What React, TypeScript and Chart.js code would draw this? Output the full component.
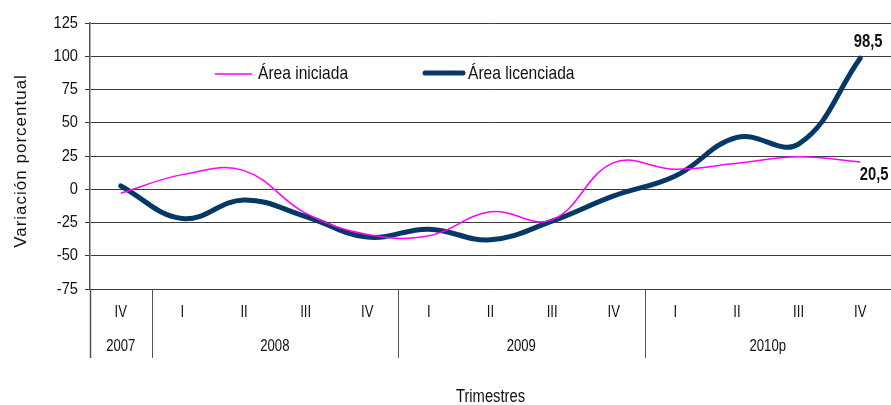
import React, { useEffect, useRef } from 'react';
import { Chart, registerables } from 'chart.js';

Chart.register(...registerables);

// ---- Data ----
const quarterLabels = ['IV', 'I', 'II', 'III', 'IV', 'I', 'II', 'III', 'IV', 'I', 'II', 'III', 'IV'];
const yearLabels = ['2007', '2008', '2009', '2010p'];
const yearSpans = [1, 4, 4, 4];
const areaIniciada = [-3, 11, 14, -18, -34, -35, -17, -23, 20, 15, 19.5, 24.5, 20.5];
const areaLicenciada = [2.5, -22, -8, -20.5, -36, -30, -38, -24, -5, 10, 39, 34, 98.5];
const seriesNames = ['Área iniciada', 'Área licenciada'];
const yMin = -75;
const yMax = 125;
const yStep = 25;
const yTitle = 'Variación porcentual';
const xTitle = 'Trimestres';

const FONT = '"Liberation Sans", Arial, sans-serif';
const NARROW_SCALE = 0.82;
const MAGENTA = '#FF00FF';
const NAVY = '#053767';
const TEXT = '#111111';

const fmt = (v: number) => String(v).replace('.', ',');

function drawNarrow(
  ctx: CanvasRenderingContext2D,
  text: string,
  x: number,
  y: number,
  font: string,
  align: CanvasTextAlign,
  sx = NARROW_SCALE
) {
  ctx.save();
  ctx.translate(x, y);
  ctx.scale(sx, 1);
  ctx.font = font;
  ctx.textAlign = align;
  ctx.textBaseline = 'middle';
  ctx.fillStyle = TEXT;
  ctx.fillText(text, 0, 0);
  ctx.restore();
}

const overlayPlugin = {
  id: 'overlay',
  afterDraw(chart: any) {
    const ctx: CanvasRenderingContext2D = chart.ctx;
    const { left, right, top, bottom } = chart.chartArea;
    const xs = chart.scales.x;
    const ys = chart.scales.y;
    const n = quarterLabels.length;
    const centers = quarterLabels.map((_, i) => xs.getPixelForValue(i));
    const boundary = (i: number) => (i === 0 ? left : (centers[i - 1] + centers[i]) / 2);
    const sepBottom = 358;

    ctx.save();
    // y tick labels
    for (let v = yMin; v <= yMax; v += yStep) {
      drawNarrow(ctx, String(v), 78, ys.getPixelForValue(v), `17px ${FONT}`, 'right', 0.86);
    }

    // axis extension and year separators
    ctx.strokeStyle = '#555555';
    ctx.lineWidth = 1;
    let start = 0;
    const groupStarts: number[] = [];
    yearSpans.forEach((s) => {
      groupStarts.push(start);
      start += s;
    });
    groupStarts.forEach((gi) => {
      const bx = Math.round(boundary(gi)) + 0.5;
      ctx.lineWidth = gi === 0 ? 1.5 : 1;
      ctx.beginPath();
      ctx.moveTo(bx, bottom);
      ctx.lineTo(bx, sepBottom);
      ctx.stroke();
    });

    // quarter labels
    for (let i = 0; i < n; i++) {
      drawNarrow(ctx, quarterLabels[i], centers[i], 313, `16px ${FONT}`, 'center');
    }
    // year labels
    groupStarts.forEach((gi, g) => {
      const last = gi + yearSpans[g] - 1;
      const cx = (centers[gi] + centers[last]) / 2;
      drawNarrow(ctx, yearLabels[g], cx, 347, `16px ${FONT}`, 'center');
    });

    // x title
    drawNarrow(ctx, xTitle, (left + right) / 2, 397, `18px ${FONT}`, 'center');

    // y title
    ctx.save();
    ctx.translate(21, 161);
    ctx.rotate(-Math.PI / 2);
    ctx.font = `17px ${FONT}`;
    ctx.textAlign = 'center';
    ctx.textBaseline = 'middle';
    ctx.fillStyle = TEXT;
    (ctx as any).letterSpacing = '1px';
    ctx.fillText(yTitle, 0, 0);
    ctx.restore();

    // legend
    ctx.lineCap = 'butt';
    ctx.strokeStyle = MAGENTA;
    ctx.lineWidth = 1.5;
    ctx.beginPath();
    ctx.moveTo(215, 74);
    ctx.lineTo(252, 74);
    ctx.stroke();
    ctx.strokeStyle = NAVY;
    ctx.lineWidth = 5;
    ctx.lineCap = 'round';
    ctx.beginPath();
    ctx.moveTo(425, 73);
    ctx.lineTo(463, 73);
    ctx.stroke();
    drawNarrow(ctx, seriesNames[0], 258, 74, `19px ${FONT}`, 'left');
    drawNarrow(ctx, seriesNames[1], 468, 74, `19px ${FONT}`, 'left');

    // end value labels
    const m0 = chart.getDatasetMeta(0).data[n - 1];
    const m1 = chart.getDatasetMeta(1).data[n - 1];
    drawNarrow(ctx, fmt(areaLicenciada[n - 1]), m1.x + 8, m1.y - 16, `bold 18px ${FONT}`, 'center');
    drawNarrow(ctx, fmt(areaIniciada[n - 1]), m0.x + 14, m0.y + 13, `bold 18px ${FONT}`, 'center');
    ctx.restore();
  },
};

export default function App() {
  const ref = useRef<HTMLCanvasElement | null>(null);

  useEffect(() => {
    document.body.style.margin = '0';
    const canvas = ref.current;
    if (!canvas) return;
    const chart = new Chart(canvas, {
      type: 'line',
      data: {
        labels: quarterLabels,
        datasets: [
          {
            label: seriesNames[0],
            data: areaIniciada,
            borderColor: MAGENTA,
            borderWidth: 1.5,
            pointRadius: 0,
            tension: 0.4,
            fill: false,
          },
          {
            label: seriesNames[1],
            data: areaLicenciada,
            borderColor: NAVY,
            borderWidth: 5,
            pointRadius: 0,
            tension: 0.4,
            fill: false,
            borderCapStyle: 'round',
            borderJoinStyle: 'round',
          },
        ],
      },
      options: {
        responsive: false,
        animation: false,
        devicePixelRatio: 1,
        layout: { padding: { top: 23, left: 0, right: 0, bottom: 0 } },
        plugins: {
          legend: { display: false },
          tooltip: { enabled: false },
          title: { display: false },
        },
        scales: {
          x: {
            type: 'category',
            offset: true,
            grid: { display: false },
            border: { display: false },
            ticks: { display: false },
            afterFit: (scale: any) => {
              scale.height = 116;
            },
          },
          y: {
            min: yMin,
            max: yMax,
            ticks: {
              stepSize: yStep,
              display: false,
            },
            grid: {
              color: '#3c3c3c',
              lineWidth: 1,
              tickLength: 5,
              tickColor: '#3c3c3c',
              drawTicks: true,
            },
            border: { display: true, color: '#555555', width: 1.5 },
            afterFit: (scale: any) => {
              scale.width = 90;
            },
          },
        },
      },
      plugins: [overlayPlugin],
    } as any);
    return () => chart.destroy();
  }, []);

  return (
    <div style={{ width: 891, height: 405, position: 'relative', background: '#fff' }}>
      <canvas ref={ref} width={891} height={405} style={{ width: 891, height: 405, display: 'block' }} />
    </div>
  );
}
